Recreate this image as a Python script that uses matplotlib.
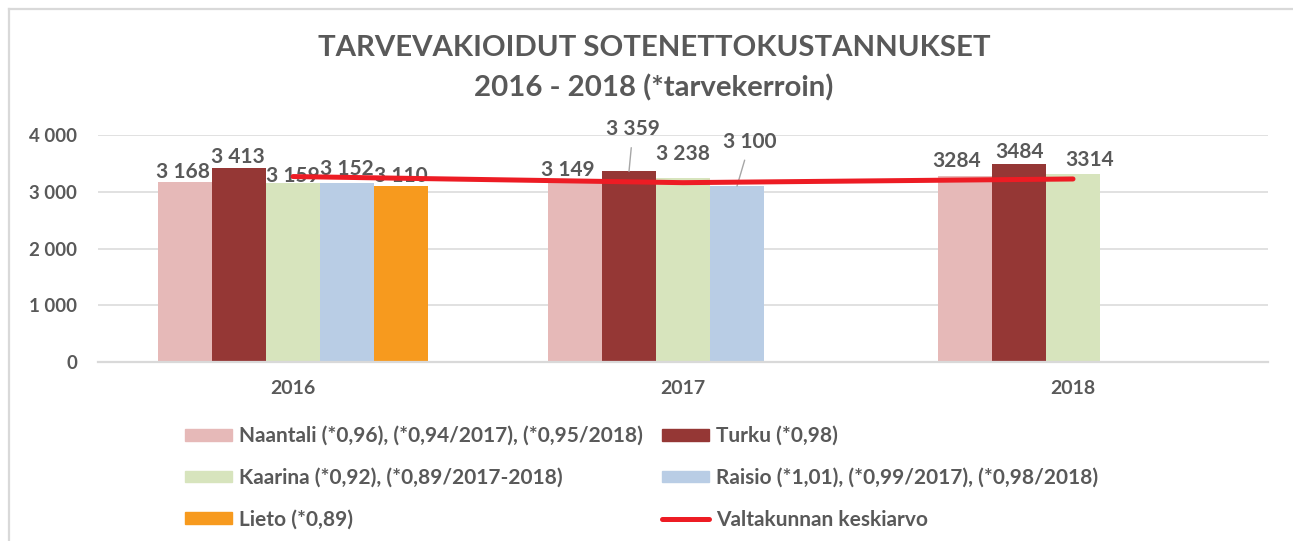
import matplotlib
matplotlib.use("Agg")
import matplotlib.pyplot as plt
import numpy as np
from matplotlib.lines import Line2D
from matplotlib.patches import Patch

plt.rcParams['font.family'] = ['Lato', 'DejaVu Sans']
plt.rcParams['font.weight'] = 'bold'

# data
years = ['2016', '2017', '2018']
series_names = [
    'Naantali (*0,96), (*0,94/2017), (*0,95/2018)',
    'Turku (*0,98)',
    'Kaarina (*0,92), (*0,89/2017-2018)',
    'Raisio (*1,01), (*0,99/2017), (*0,98/2018)',
    'Lieto (*0,89)',
]
naantali = [3168, 3149, 3284]
turku = [3413, 3359, 3484]
kaarina = [3159, 3238, 3314]
raisio = [3152, 3100, None]
lieto = [3110, None, None]
avg_name = 'Valtakunnan keskiarvo'
avg = [3268, 3160, 3225]
yticks = [0, 1000, 2000, 3000, 4000]

series = [naantali, turku, kaarina, raisio, lieto]
colors = ['#E6B9B8', '#953735', '#D7E4BD', '#B9CDE5', '#F79A1E']
txt = '#595959'

# label offsets in pixels (dx, dy), per series/year
label_offsets = {
    (0, 0): (-2, 4), (1, 0): (-1, 5), (2, 0): (0, 1), (3, 0): (0, 8), (4, 0): (0, 4),
    (0, 1): (-7, 7), (1, 1): (4, 36), (2, 1): (0, 18), (3, 1): (13, 38),
    (0, 2): (-8, 9), (1, 2): (1, 6), (2, 2): (17, 8),
}
leaders = {(1, 1), (3, 1)}

def fmt(v, year_idx):
    if year_idx == 2:
        return str(v)
    return f"{v:,}".replace(',', ' ')

fig = plt.figure(figsize=(12.93, 5.41), dpi=100)
ax = fig.add_axes([98 / 1293, 1 - 362 / 541, (1268 - 98) / 1293, (362 - 135) / 541])

x = np.arange(len(years))
w = 54 / 390
for i, vals in enumerate(series):
    for j, v in enumerate(vals):
        if v is None:
            continue
        xc = x[j] + (i - 2) * w
        ax.bar(xc, v, width=w, color=colors[i], zorder=2, linewidth=0)
        dx, dy = label_offsets[(i, j)]
        arrow = None
        if (i, j) in leaders:
            arrow = dict(arrowstyle='-', color='#A6A6A6', lw=1.0, shrinkA=4, shrinkB=0)
        ax.annotate(fmt(v, j), xy=(xc, v), xytext=(dx, dy), textcoords='offset pixels',
                    ha='center', va='baseline', fontsize=15, color=txt, fontweight='bold',
                    zorder=3, arrowprops=arrow)

ax.plot(x, avg, color='#ED1C24', lw=3.6, solid_capstyle='round', zorder=4)

ax.set_xlim(-0.5, 2.5)
ax.set_ylim(0, 4000)
ax.set_yticks(yticks)
ax.set_yticklabels([f"{v:,}".replace(',', ' ') for v in yticks])
ax.set_xticks(x)
ax.set_xticklabels(years)
ax.tick_params(axis='y', length=0, pad=15, labelsize=13.5, labelcolor=txt)
ax.tick_params(axis='x', length=0, pad=13, labelsize=14, labelcolor=txt)
ax.grid(axis='y', color='#D9D9D9', lw=1.1, zorder=0)
for s in ['top', 'right', 'left']:
    ax.spines[s].set_visible(False)
ax.spines['bottom'].set_color('#D9D9D9')
ax.spines['bottom'].set_linewidth(1.6)
ax.spines['bottom'].set_zorder(2.5)

fig.text(654 / 1293, 1 - 48 / 541, 'TARVEVAKIOIDUT SOTENETTOKUSTANNUKSET', ha='center', va='center',
         fontsize=21.2, color=txt, fontweight='bold')
fig.text(654 / 1293, 1 - 88 / 541, '2016 - 2018 (*tarvekerroin)', ha='center', va='center',
         fontsize=21.2, color=txt, fontweight='bold')

# legend in two columns
h = [Patch(color=c) for c in colors]
h_line = Line2D([0], [0], color='#ED1C24', lw=3.6, solid_capstyle='round')
col1 = ([h[0], h[2], h[4]], [series_names[0], series_names[2], series_names[4]])
col2 = ([h[1], h[3], h_line], [series_names[1], series_names[3], avg_name])
for (hs, ls), xl in [(col1, 185), (col2, 662)]:
    leg = fig.legend(hs, ls, loc='upper left', bbox_to_anchor=(xl / 1293, 1 - 426 / 541),
                     frameon=False, borderpad=0, borderaxespad=0, handlelength=2.25,
                     handleheight=0.5, handletextpad=0.35, labelspacing=1.05,
                     prop={'size': 15, 'weight': 'bold'})
    for t in leg.get_texts():
        t.set_color(txt)

# chart border
fig.add_artist(Line2D([8.5 / 1293, 8.5 / 1293], [0, 1 - 8.5 / 541], color='#D9D9D9', lw=1.6))
fig.add_artist(Line2D([8.5 / 1293, 1], [1 - 8.5 / 541, 1 - 8.5 / 541], color='#D9D9D9', lw=1.6))

fig.savefig('out.png', dpi=100)
